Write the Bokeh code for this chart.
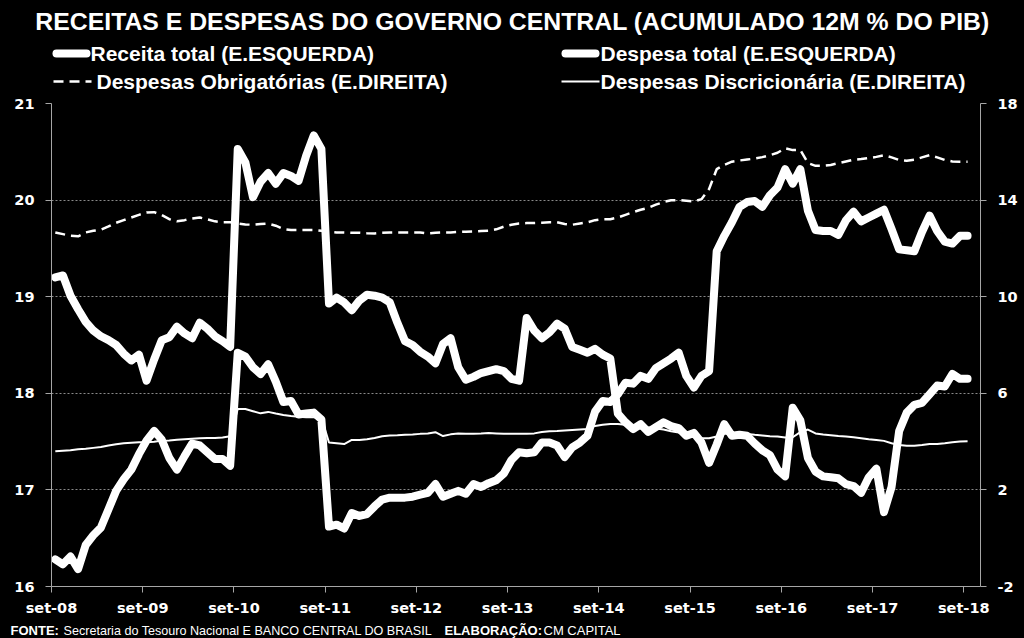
import numpy as np
from bokeh.plotting import figure
from bokeh.models import Range1d, LinearAxis, FixedTicker, Label, Plot
from bokeh.layouts import column
from bokeh.embed import file_html
from bokeh.resources import INLINE

# ---------------- data (monthly, set-08 .. set-18) ----------------
x_tick_labels = ["set-08", "set-09", "set-10", "set-11", "set-12", "set-13",
                 "set-14", "set-15", "set-16", "set-17", "set-18"]
left_ticks = [16, 17, 18, 19, 20, 21]
right_ticks = [-2, 2, 6, 10, 14, 18]
right_tick_labels = ["-2", "2", "6", "10", "14", "18"]

receita_total = [
    19.20, 19.22, 19.01, 18.87, 18.74, 18.65, 18.59, 18.55, 18.50, 18.41,
    18.34, 18.40, 18.13, 18.35, 18.55, 18.58, 18.69, 18.62, 18.57, 18.73,
    18.67, 18.59, 18.54, 18.48, 20.53, 20.39, 20.03, 20.19, 20.28, 20.17,
    20.28, 20.25, 20.20, 20.46, 20.67, 20.53, 18.93, 18.99, 18.94, 18.86,
    18.96, 19.02, 19.01, 18.99, 18.94, 18.73, 18.54, 18.50, 18.43, 18.38,
    18.31, 18.51, 18.57, 18.27, 18.14, 18.17, 18.21, 18.23, 18.25, 18.23,
    18.15, 18.13, 18.78, 18.65, 18.57, 18.63, 18.72, 18.67, 18.48, 18.45,
    18.42, 18.46, 18.40, 18.36, 17.79, 17.70, 17.63, 17.68, 17.60, 17.65,
    17.70, 17.66, 17.64, 17.56, 17.59, 17.49, 17.28, 17.47, 17.68, 17.56,
    17.57, 17.56, 17.48, 17.41, 17.36, 17.21, 17.14, 17.85, 17.72, 17.33,
    17.19, 17.14, 17.13, 17.12, 17.06, 17.04, 16.97, 17.13, 17.22, 16.77,
    17.03, 17.61, 17.80, 17.88, 17.90, 17.99, 18.08, 18.07, 18.20, 18.15,
    18.15]

despesa_total = [
    16.28, 16.23, 16.31, 16.18, 16.43, 16.53, 16.61, 16.80, 16.99, 17.11,
    17.21, 17.37, 17.51, 17.61, 17.52, 17.33, 17.21, 17.35, 17.48, 17.46,
    17.39, 17.32, 17.32, 17.25, 18.42, 18.38, 18.27, 18.20, 18.30, 18.12,
    17.91, 17.92, 17.78, 17.79, 17.80, 17.73, 16.62, 16.64, 16.60, 16.76,
    16.73, 16.75, 16.83, 16.90, 16.92, 16.92, 16.92, 16.93, 16.95, 16.97,
    17.06, 16.93, 16.96, 16.99, 16.96, 17.06, 17.03, 17.07, 17.10, 17.17,
    17.31, 17.39, 17.38, 17.39, 17.49, 17.49, 17.46, 17.34, 17.44, 17.49,
    17.56, 17.81, 17.92, 17.91, 17.99, 18.11, 18.10, 18.18, 18.15, 18.26,
    18.31, 18.36, 18.42, 18.18, 18.06, 18.18, 18.23, 19.47, 19.63, 19.77,
    19.93, 19.98, 19.99, 19.93, 20.05, 20.13, 20.32, 20.17, 20.32, 19.89,
    19.69, 19.68, 19.68, 19.64, 19.79, 19.88, 19.78, 19.82, 19.86, 19.90,
    19.70, 19.49, 19.48, 19.47, 19.67, 19.84, 19.68, 19.57, 19.55, 19.63,
    19.63]

despesas_obrigatorias = [
    12.66, 12.59, 12.52, 12.50, 12.66, 12.73, 12.77, 12.91, 13.06, 13.17,
    13.28, 13.39, 13.49, 13.50, 13.38, 13.21, 13.12, 13.17, 13.24, 13.28,
    13.20, 13.12, 13.08, 13.08, 13.03, 12.99, 12.98, 13.01, 13.03, 12.94,
    12.80, 12.76, 12.76, 12.76, 12.76, 12.73, 12.69, 12.66, 12.66, 12.65,
    12.65, 12.63, 12.62, 12.65, 12.66, 12.66, 12.66, 12.66, 12.66, 12.62,
    12.65, 12.66, 12.66, 12.68, 12.69, 12.70, 12.72, 12.73, 12.79, 12.90,
    12.98, 13.03, 13.05, 13.05, 13.06, 13.08, 13.08, 13.01, 12.98, 13.03,
    13.08, 13.17, 13.21, 13.21, 13.28, 13.39, 13.50, 13.60, 13.68, 13.81,
    13.92, 13.99, 14.00, 13.97, 13.94, 14.04, 14.46, 15.28, 15.46, 15.59,
    15.64, 15.68, 15.72, 15.78, 15.86, 15.96, 16.15, 16.07, 16.08, 15.53,
    15.42, 15.42, 15.45, 15.53, 15.60, 15.67, 15.70, 15.74, 15.79, 15.86,
    15.77, 15.66, 15.63, 15.67, 15.77, 15.86, 15.77, 15.66, 15.60, 15.59,
    15.59]

despesas_discricionarias = [
    3.60, 3.62, 3.64, 3.68, 3.70, 3.74, 3.78, 3.84, 3.89, 3.93,
    3.95, 3.97, 3.97, 3.99, 4.04, 4.05, 4.08, 4.10, 4.12, 4.14,
    4.15, 4.15, 4.17, 4.22, 5.35, 5.35, 5.26, 5.17, 5.23, 5.16,
    5.10, 5.06, 5.03, 5.01, 5.01, 5.00, 3.96, 3.93, 3.90, 4.07,
    4.07, 4.10, 4.15, 4.22, 4.25, 4.26, 4.28, 4.29, 4.32, 4.34,
    4.39, 4.23, 4.30, 4.34, 4.33, 4.33, 4.34, 4.36, 4.34, 4.32,
    4.32, 4.32, 4.32, 4.34, 4.40, 4.43, 4.44, 4.46, 4.48, 4.50,
    4.52, 4.65, 4.70, 4.73, 4.73, 4.70, 4.65, 4.62, 4.58, 4.54,
    4.50, 4.43, 4.38, 4.32, 4.21, 4.14, 4.14, 4.21, 4.32, 4.34,
    4.33, 4.32, 4.28, 4.25, 4.22, 4.21, 4.17, 4.18, 4.39, 4.50,
    4.34, 4.29, 4.26, 4.23, 4.21, 4.18, 4.14, 4.10, 4.07, 4.03,
    3.93, 3.86, 3.83, 3.83, 3.86, 3.90, 3.90, 3.93, 3.97, 4.00,
    4.01]

title_text = "RECEITAS E DESPESAS DO GOVERNO CENTRAL (ACUMULADO 12M % DO PIB)"
legend_labels = ["Receita total (E.ESQUERDA)", "Despesa total (E.ESQUERDA)",
                 "Despesas Obrigatórias (E.DIREITA)", "Despesas Discricionária (E.DIREITA)"]
footer_parts = ["FONTE:", "Secretaria do Tesouro Nacional E BANCO CENTRAL DO BRASIL",
                "ELABORAÇÃO:", "CM CAPITAL"]

# ---------------- layout constants ----------------
W = 1024
HEAD_H = 95
FOOT_H = 18
MAIN_H = 638 - HEAD_H - FOOT_H
B_LEFT, B_RIGHT = 51, 44
BG = "black"
FG = "white"
AXIS_GRAY = "#a6a6a6"
GRID_GRAY = "#8a8a8a"

months = np.arange(len(receita_total)) + 0.5
x_tick_pos = [12 * i for i in range(len(x_tick_labels))]

HAS_FRAME_ALIGN = "frame_align" in Plot.properties()


def blank(h):
    # full-width pixel-coordinate helper figure (header / footer)
    f = figure(width=W, height=h, x_range=Range1d(0, W), y_range=Range1d(h, 0),
               toolbar_location=None, output_backend="svg", min_border=0,
               min_border_left=0, min_border_right=0, min_border_top=0, min_border_bottom=0,
               x_axis_location=None, y_axis_location=None)
    if HAS_FRAME_ALIGN:
        f.frame_align = False
    f.grid.visible = False
    f.background_fill_color = BG
    f.border_fill_color = BG
    f.outline_line_color = None
    return f


# ---------------- header (title + legend) ----------------
head = blank(HEAD_H)
head.add_layout(Label(x=512, y=21, text=title_text, text_font="Liberation Sans",
                      text_font_style="bold", text_font_size="24.8px", text_color=FG,
                      text_align="center", text_baseline="middle"))

LEG_FONT = "Liberation Sans"
LEG_SIZE = "21px"
rows_y = [53, 81]
head.line([56, 86], [rows_y[0]] * 2, line_width=8, line_color=FG, line_cap="round")
head.line([565, 595], [rows_y[0]] * 2, line_width=8, line_color=FG, line_cap="round")
head.line([53, 91], [rows_y[1]] * 2, line_width=2.5, line_color=FG, line_dash="10 6")
head.line([561, 599], [rows_y[1]] * 2, line_width=2, line_color=FG)

leg_pos = [(90, rows_y[0]), (600, rows_y[0]), (96, rows_y[1]), (600, rows_y[1])]
for (lx, ly), txt in zip(leg_pos, legend_labels):
    head.add_layout(Label(x=lx, y=ly, text=txt, text_font=LEG_FONT, text_font_style="bold",
                          text_font_size=LEG_SIZE, text_color=FG, text_align="left",
                          text_baseline="middle"))

# ---------------- main chart ----------------
p = figure(width=W, height=MAIN_H, x_range=Range1d(0, 122.2), y_range=Range1d(16, 21),
           toolbar_location=None, output_backend="svg",
           min_border_left=B_LEFT, min_border_right=B_RIGHT, min_border_top=8,
           min_border_bottom=34)
if HAS_FRAME_ALIGN:
    p.frame_align = False
p.background_fill_color = BG
p.border_fill_color = BG
p.outline_line_color = None

p.extra_y_ranges = {"right": Range1d(-2, 18)}
p.add_layout(LinearAxis(y_range_name="right"), "right")

p.xaxis.ticker = FixedTicker(ticks=x_tick_pos)
p.xaxis.major_label_overrides = {t: l for t, l in zip(x_tick_pos, x_tick_labels)}
p.yaxis[0].ticker = FixedTicker(ticks=left_ticks)
p.yaxis[1].ticker = FixedTicker(ticks=right_ticks)
p.yaxis[1].major_label_overrides = {t: l for t, l in zip(right_ticks, right_tick_labels)}

for ax in p.axis:
    ax.axis_line_color = AXIS_GRAY
    ax.axis_line_width = 1
    ax.major_tick_line_color = AXIS_GRAY
    ax.major_tick_out = 6
    ax.major_tick_in = 0
    ax.minor_tick_line_color = None
    ax.major_label_text_color = FG
    ax.major_label_text_font = "DejaVu Sans"
    ax.major_label_text_font_style = "bold"
    ax.major_label_text_font_size = "14.5px"
p.xaxis.major_label_standoff = 7
p.yaxis[0].major_label_standoff = 11
p.yaxis[1].major_label_standoff = 11

p.xgrid.visible = False
p.ygrid.ticker = FixedTicker(ticks=left_ticks[1:])
p.ygrid.grid_line_color = GRID_GRAY
p.ygrid.grid_line_dash = "2 2"
p.ygrid.grid_line_width = 1

p.line(months, despesas_obrigatorias, y_range_name="right", line_color=FG, line_width=2.5,
       line_dash="10 6")
p.line(months, despesas_discricionarias, y_range_name="right", line_color=FG, line_width=2)
p.line(months, receita_total, line_color=FG, line_width=8, line_join="round", line_cap="round")
p.line(months, despesa_total, line_color=FG, line_width=8, line_join="round", line_cap="round")

# ---------------- footer ----------------
foot = blank(FOOT_H)
foot_pos = [(10, True), (63, False), (444, True), (543, False)]
foot_sizes = ["13px", "12.6px", "13px", "13px"]
for (fx, bold), txt, fs in zip(foot_pos, footer_parts, foot_sizes):
    foot.add_layout(Label(x=fx, y=10, text=txt, text_font="Liberation Sans",
                          text_font_style="bold" if bold else "normal",
                          text_font_size=fs, text_color=FG, text_align="left",
                          text_baseline="middle"))

layout = column(head, p, foot, spacing=0)
layout.styles = {"background-color": "black"}
open("out.html", "w").write(file_html(layout, INLINE))
